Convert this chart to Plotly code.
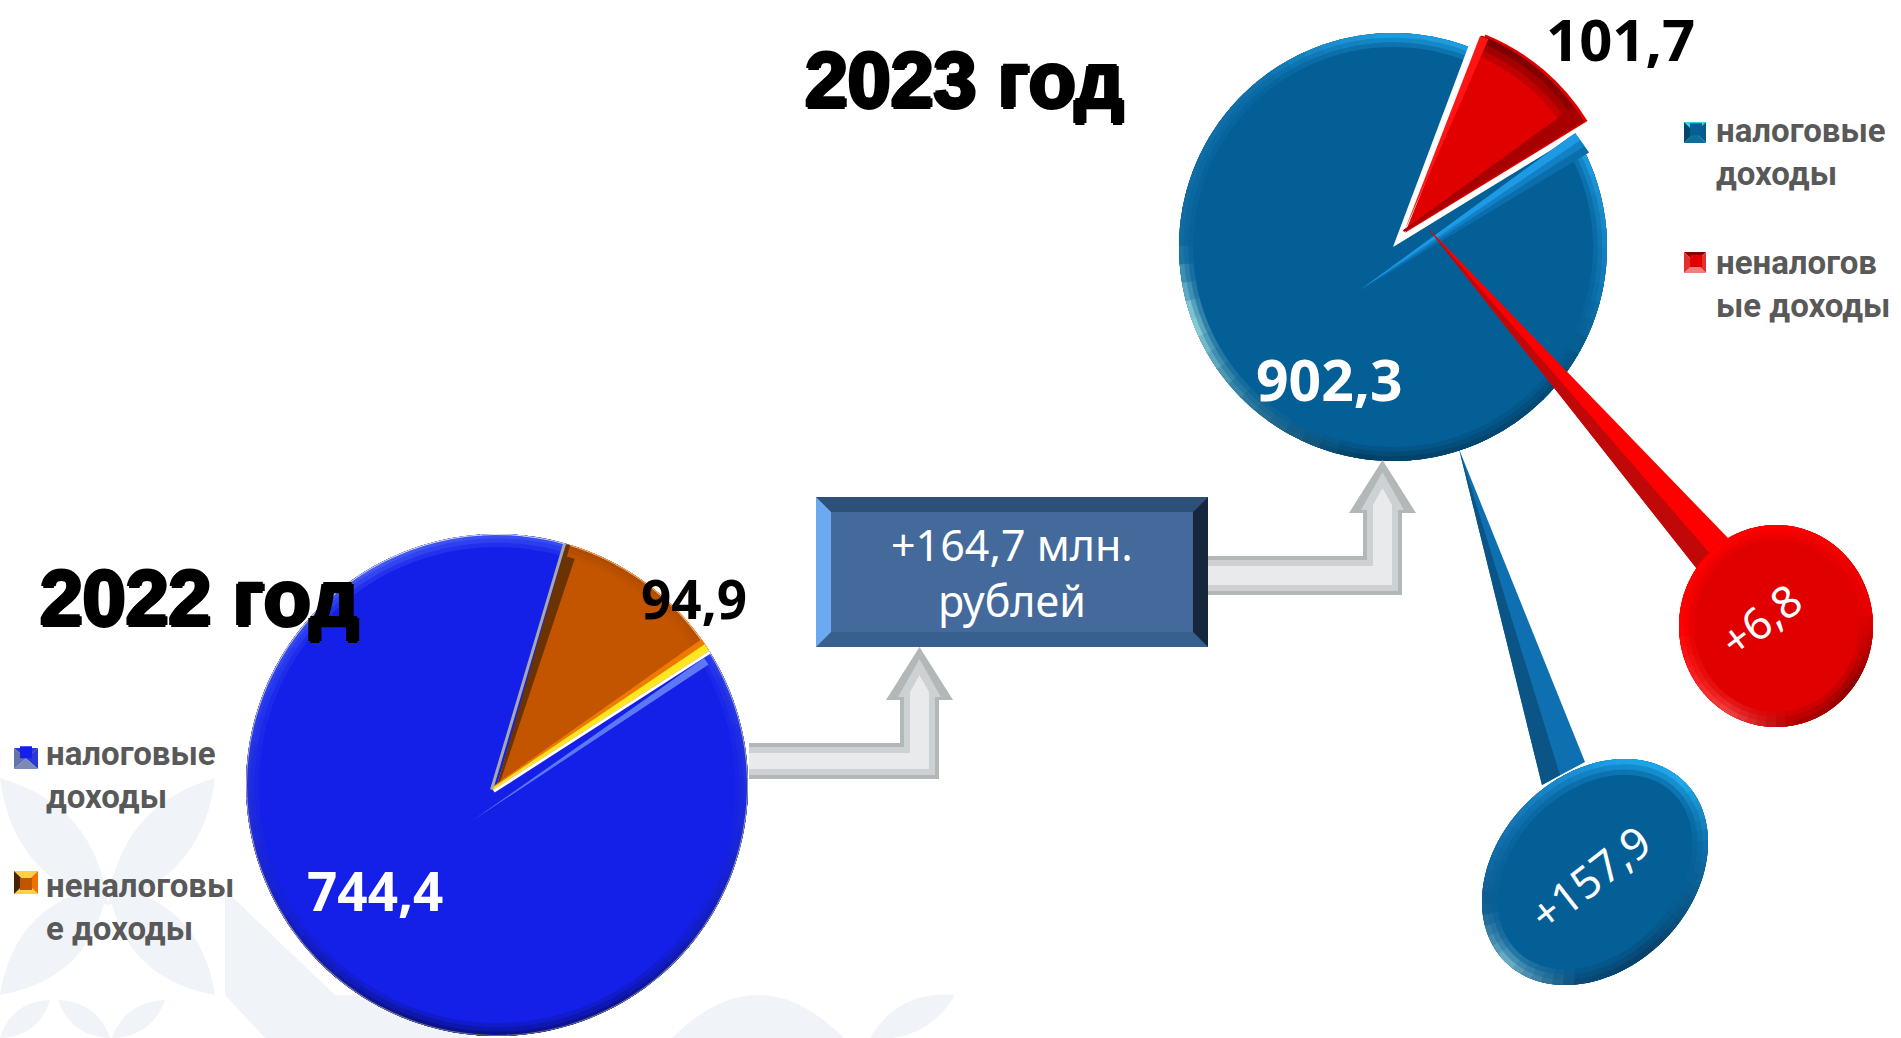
import math
import plotly.graph_objects as go

W, H = 1901, 1038

# ---- data ----
years = ["2022 год", "2023 год"]
labels_2022 = [" <br>налоговые<br>доходы", " <br>неналоговы<br>е доходы"]
labels_2023 = ["&nbsp;<br>налоговые<br>доходы", "&nbsp;<br>неналогов<br>ые доходы"]
values_2022 = [744.4, 94.9]
values_2023 = [902.3, 101.7]
change_total = "+164,7 млн.<br>рублей"
change_tax = 157.9
change_nontax = 6.8

BLUE_22, ORANGE = "#1420E8", "#C45500"
BLUE_23, RED = "#045F97", "#E00000"


def fmt(v, sign=False):
    return ("+" if sign else "") + f"{v:.1f}".replace(".", ",")


def px(x):
    return x / W


def py(y):
    return 1 - y / H


def poly(pts, color, layer="above"):
    d = "M" + "L".join(f"{px(x):.5f},{py(y):.5f}" for x, y in pts) + "Z"
    return dict(type="path", path=d, xref="paper", yref="paper", fillcolor=color,
                line=dict(width=0), layer=layer)


def hex2rgb(c):
    return tuple(int(c[i:i + 2], 16) for i in (1, 3, 5))


def mix(c0, c1, t):
    a, b = hex2rgb(c0), hex2rgb(c1)
    return "#%02x%02x%02x" % tuple(round(a[i] + (b[i] - a[i]) * t) for i in range(3))


def anchor_color(anchors, ang):
    ang = ang % 360
    pts = sorted(anchors)
    pts = [(pts[-1][0] - 360, pts[-1][1])] + pts + [(pts[0][0] + 360, pts[0][1])]
    for (a0, c0), (a1, c1) in zip(pts, pts[1:]):
        if a0 <= ang <= a1:
            return mix(c0, c1, (ang - a0) / (a1 - a0 or 1))
    return pts[0][1]


def ell(cx, cy, a, b, rot, ang):
    t = math.radians(ang)
    x, y = a * math.sin(t), -b * math.cos(t)
    r = math.radians(rot)
    return (cx + x * math.cos(r) - y * math.sin(r), cy + x * math.sin(r) + y * math.cos(r))


def rim(cx, cy, a, b, rot, a0, a1, w, anchors, step=5, base=None, tiers=3):
    """Soft bevel: concentric tiers of short arc pieces fading to the base colour."""
    out = []
    n = max(1, round((a1 - a0) / step))
    da = (a1 - a0) / n
    levels = range(1, tiers + 1) if base else [tiers]
    for lev in levels:
        ww = w * (tiers - lev + 1) / tiers
        for i in range(n):
            s, e = a0 + i * da, a0 + (i + 1) * da + 0.4
            c = anchor_color(anchors, s + da / 2)
            if base:
                c = mix(base, c, lev / tiers)
            sub = 3
            outer = [ell(cx, cy, a, b, rot, s + (e - s) * k / sub) for k in range(sub + 1)]
            inner = [ell(cx, cy, a - ww, b - ww, rot, e - (e - s) * k / sub) for k in range(sub + 1)]
            out.append(poly(outer + inner, c))
    return out


def band(p0, p1, w0, w1, side, color):
    dx, dy = p1[0] - p0[0], p1[1] - p0[1]
    L = math.hypot(dx, dy)
    nx, ny = -dy / L * side, dx / L * side
    return poly([p0, p1, (p1[0] + nx * w1, p1[1] + ny * w1), (p0[0] + nx * w0, p0[1] + ny * w0)], color)


shapes = []

# ---- pale background ornament ----
WM = "#F0F4F9"


def leaf(p0, p1, bulge, color=WM):
    mx, my = (p0[0] + p1[0]) / 2, (p0[1] + p1[1]) / 2
    dx, dy = p1[0] - p0[0], p1[1] - p0[1]
    L = math.hypot(dx, dy)
    nx, ny = -dy / L * bulge, dx / L * bulge
    f = lambda p: f"{px(p[0]):.5f},{py(p[1]):.5f}"
    d = (f"M{f(p0)}Q{f((mx + nx, my + ny))} {f(p1)}Q{f((mx - nx, my - ny))} {f(p0)}Z")
    return dict(type="path", path=d, xref="paper", yref="paper", fillcolor=color,
                line=dict(width=0), layer="below")


for a_, b_, c_ in [((0, 778), (108, 905), 55), ((215, 778), (108, 905), 55),
                   ((0, 995), (108, 885), 55), ((215, 995), (108, 885), 55)]:
    shapes.append(leaf(a_, b_, c_))
for a_, b_, c_ in [((0, 1038), (50, 1000), 22), ((110, 1038), (58, 1000), 22), ((112, 1038), (165, 1000), 22),
                   ((870, 1038), (955, 995), 30)]:
    shapes.append(leaf(a_, b_, c_))
shapes.append(poly([(225, 890), (335, 995), (225, 995)], WM, "below"))
shapes.append(poly([(225, 995), (430, 995), (470, 1038), (265, 1038)], WM, "below"))
shapes.append(leaf((672, 1038), (844, 1038), 86))

# ---- pie 2022 decoration ----
C22 = (497, 785, 251)
A22 = [(0, "#3A4FF2"), (60, "#2A3CEA"), (100, "#1A28D8"), (150, "#0B1398"), (200, "#0A1288"), (240, "#1620C8"),
       (290, "#2A3CEE"), (330, "#4258F5")]
G22 = [(0, "#E0E2EC"), (90, "#9A9CA8"), (180, "#6A6C78"), (270, "#A8A8B4"), (330, "#D4D6E4")]
shapes += rim(*C22[:2], C22[2], C22[2], 0, 58, 376, 13, A22, step=6, base=BLUE_22)
shapes += rim(*C22[:2], C22[2], C22[2], 0, 58, 376, 3, G22, step=10)
apex22, top22, right22 = (493, 790), (566, 544), (709, 651)
shapes.append(band((497, 785), top22, 2, 13, 1, "#6B3300"))
shapes += rim(*C22[:2], C22[2], C22[2], 0, 17, 57, 12, [(0, "#A84800"), (57, "#B85000")], step=6, base=ORANGE)
shapes += rim(*C22[:2], C22[2], C22[2], 0, 17, 57, 3, [(0, "#F0B070"), (57, "#F0B878")], step=6)
shapes.append(band(apex22, right22, 3, 14, -1, "#EE7A00"))
shapes.append(band(apex22, right22, 2, 8, -1, "#FFE81F"))
shapes.append(band(apex22, top22, 3, 3, -1, "#A8A8A8"))
shapes.append(band(apex22, right22, 3, 3, 1, "#FFFFFF"))
shapes.append(band((472, 821), (704, 658), 0, 8, 1, "#5C78F5"))

# ---- pie 2023 decoration ----
C23 = (1393, 247, 214)
A23 = [(0, "#1E9BDD"), (60, "#1FA0E4"), (100, "#1078B4"), (130, "#034A75"), (190, "#034066"), (225, "#2E7CA0"),
       (250, "#8FD0D8"), (270, "#0F6AA0"), (320, "#0F6FAA"), (345, "#1A90D0")]
shapes += rim(*C23[:2], C23[2], C23[2], 0, 60, 380.5, 14, A23, step=5, base=BLUE_23)
shapes.append(band((1360, 290), (1575, 133), 0, 24, 1, "#0A6EAC"))
shapes.append(band((1360, 290), (1575, 133), 0, 16, 1, "#1280C4"))
shapes.append(band((1360, 290), (1575, 133), 0, 9, 1, "#1C9AE4"))
shapes.append(poly([(1393, 247), ell(1393, 247, 216, 216, 0, 20.6), ell(1393, 247, 216, 216, 0, 24)], "#FFFFFF"))
shapes.append(band((1393, 247), (1577, 132), 0, 3, -1, "#FFFFFF"))

# red slice bevel
R0, R1, R2 = (1404, 232), (1480, 36), (1583, 122)
shapes += rim(1404, 232, 211, 211, 0, 21.5, 58, 20, [(21, "#7A0000"), (58, "#900000")], step=6, base=RED)
shapes.append(band(R0, R1, 0, 9, 1, "#FF1414"))
shapes.append(band(R0, R2, 2, 18, -1, "#A80000"))

# ---- callout tails ----
shapes.append(poly([(1427, 227), (1697, 569), (1729, 539)], "#FF0000"))
shapes.append(poly([(1427, 227), (1697, 569), (1712, 556)], "#C00808"))
shapes.append(poly([(1459, 449), (1542, 785), (1585, 762)], "#0E70B0"))
shapes.append(poly([(1459, 449), (1542, 785), (1560, 775)], "#0A5486"))

# ---- callout bodies ----
shapes.append(poly([ell(1776, 626, 97, 101, 0, k * 4) for k in range(90)], RED))
shapes += rim(1776, 626, 97, 101, 0, 0, 360, 15,
              [(0, "#FF0000"), (80, "#E80000"), (125, "#8C0000"), (170, "#B00000"), (210, "#F04040"), (270, "#FF0000")],
              step=6, base=RED)
shapes.append(poly([ell(1595, 872, 97, 127, 45, k * 4) for k in range(90)], BLUE_23))
shapes += rim(1595, 872, 97, 127, 45, 0, 360, 16,
              [(0, "#20A8E8"), (40, "#0F6EA8"), (100, "#083F66"), (135, "#084A78"), (180, "#6FB0C8"), (215, "#0F5C90"),
               (265, "#1578B8"), (320, "#1CA0E8")], step=6, base=BLUE_23)

# ---- total box ----
bx0, by0, bx1, by1, bv = 816, 497, 1208, 647, 15
shapes.append(poly([(bx0, by0), (bx1, by0), (bx1, by1), (bx0, by1)], "#44699B"))
shapes.append(poly([(bx0, by0), (bx1, by0), (bx1 - bv, by0 + bv), (bx0 + bv, by0 + bv)], "#2D5078"))
shapes.append(poly([(bx0, by1), (bx1, by1), (bx1 - bv, by1 - bv), (bx0 + bv, by1 - bv)], "#38608E"))
shapes.append(poly([(bx0, by0), (bx0 + bv, by0 + bv), (bx0 + bv, by1 - bv), (bx0, by1)], "#6BAAF0"))
shapes.append(poly([(bx1, by0), (bx1 - bv, by0 + bv), (bx1 - bv, by1 - bv), (bx1, by1)], "#16263C"))


# ---- bent arrows ----
def arrow(x0, yt, yb, xs0, xs1, yhead, xh0, xh1, ytip):
    xm = (xh0 + xh1) / 2
    out = [poly([(x0, yt), (xs0, yt), (xs0, yhead), (xh0, yhead), (xm, ytip), (xh1, yhead), (xs1, yhead), (xs1, yb), (x0, yb)],
                "#B2B7B8")]
    i = 4
    out.append(poly([(x0, yt + i), (xs0 + i, yt + i), (xs0 + i, yhead - 3), (xh0 + 12, yhead - 3), (xm, ytip + 12),
                     (xh1 - 12, yhead - 3), (xs1 - i, yhead - 3), (xs1 - i, yb - i), (x0, yb - i)], "#CDD1D3")) 
    j = 10
    out.append(poly([(x0, yt + j), (xs0 + j, yt + j), (xs0 + j, yhead - 8), (xm, ytip + 28), (xs1 - j, yhead - 8),
                     (xs1 - j, yb - j), (x0, yb - j)], "#E8EAEB"))
    return out


shapes += arrow(749, 743, 779, 900, 939, 700, 886, 953, 647)
shapes += arrow(1208, 556, 595, 1363, 1402, 513, 1349, 1416, 460)


# ---- legend swatch frames (bevelled squares behind the legend keys) ----
def swatch(x0, y0, x1, y1, top, right, bottom, left):
    cx, cy = (x0 + x1) / 2, (y0 + y1) / 2
    return [poly([(x0, y0), (x1, y0), (cx, cy)], top), poly([(x1, y0), (x1, y1), (cx, cy)], right),
            poly([(x1, y1), (x0, y1), (cx, cy)], bottom), poly([(x0, y1), (x0, y0), (cx, cy)], left)]


shapes += swatch(14, 748, 38, 769, "#2A3AD8", "#2A3AD8", "#7C8AB8", "#6672A8")
shapes += swatch(14, 871, 38, 894, "#FFD040", "#F07000", "#FFD040", "#4A2400")
shapes += swatch(1684, 122, 1706, 143, "#30D8F0", "#0A5A8A", "#0B6E9C", "#06466E")
shapes += swatch(1684, 252, 1706, 273, "#8A0000", "#E03030", "#F08080", "#E03030")


# ---- traces ----
def domain(cx, cy, r, pull=0.0):
    d = r * (1 + pull)
    return dict(x=[px(cx - d), px(cx + d)], y=[py(cy + d), py(cy - d)])


fig = go.Figure()
fig.add_trace(go.Pie(labels=labels_2022, values=values_2022, sort=False, direction="clockwise", rotation=57.5,
                     domain=domain(497, 785, 251), textinfo="none", legend="legend", name=years[0],
                     marker=dict(colors=[BLUE_22, ORANGE], line=dict(width=0))))
PULL = 0.087
fig.add_trace(go.Pie(labels=labels_2023, values=values_2023, sort=False, direction="clockwise", rotation=58.5,
                     pull=[0, PULL], domain=domain(1393, 247, 214, PULL), textinfo="none", legend="legend2",
                     name=years[1], marker=dict(colors=[BLUE_23, RED], line=dict(width=0))))


def note(x, y, text, size, color, weight=400, family="Noto Sans", angle=0, shadow=None):
    d = dict(x=px(x), y=py(y), xref="paper", yref="paper", text=text, showarrow=False, textangle=angle,
             xanchor="center", yanchor="middle",
             font=dict(size=size, color=color, family=family, weight=weight))
    if shadow:
        d["font"]["shadow"] = shadow
    return d


BOLD_SHADOW = "2px 0 0 #000, -2px 0 0 #000, 0 2px 0 #000, 0 -2px 0 #000"
annotations = [
    note(199, 598, years[0], 77, "#000000", 700, "Liberation Sans", shadow=BOLD_SHADOW),
    note(964, 80, years[1], 77, "#000000", 700, "Liberation Sans", shadow=BOLD_SHADOW),
    note(375, 890, fmt(values_2022[0]), 53, "#FFFFFF", 700),
    note(694, 598, fmt(values_2022[1]), 53, "#000000", 700),
    note(1329, 379, fmt(values_2023[0]), 57, "#FFFFFF", 700),
    note(1620, 38, fmt(values_2023[1]), 58, "#000000", 700),
    note(1012, 572, change_total, 43, "#FFFFFF"),
    note(1590, 877, fmt(change_tax, True), 44, "#FFFFFF", angle=-38),
    note(1760, 620, fmt(change_nontax, True), 44, "#FFFFFF", angle=-37),
]

legend_font = dict(family="Roboto", size=33, color="#595959", weight=700)
fig.update_layout(
    width=W, height=H, margin=dict(l=0, r=0, t=0, b=0, autoexpand=False),
    paper_bgcolor="#FFFFFF", plot_bgcolor="#FFFFFF", showlegend=True,
    legend=dict(x=px(6), y=py(681.5), xanchor="left", yanchor="top", font=legend_font, bgcolor="rgba(0,0,0,0)",
                traceorder="normal"),
    legend2=dict(x=px(1676), y=py(58.5), xanchor="left", yanchor="top", font=legend_font, bgcolor="rgba(0,0,0,0)",
                 traceorder="normal"),
    shapes=shapes, annotations=annotations, hovermode=False,
)
fig.write_html("out.html", config=dict(responsive=False, displayModeBar=False),
               post_script="document.body.style.margin='0';document.documentElement.style.overflow='hidden';")
